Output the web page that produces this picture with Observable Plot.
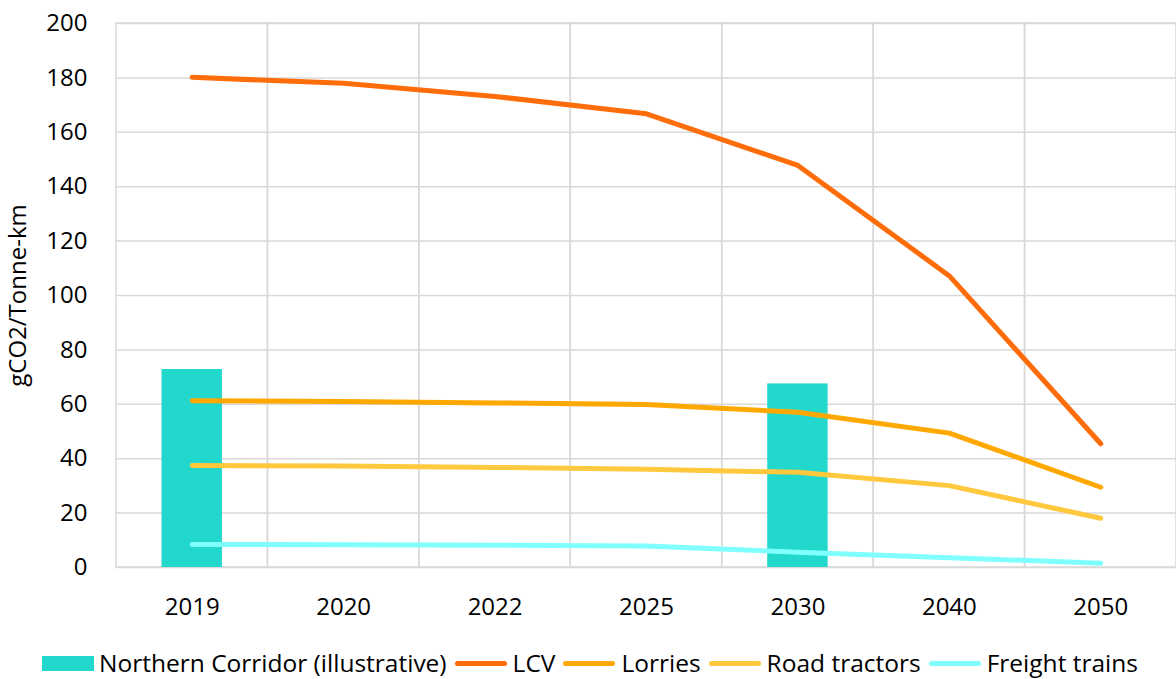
<!DOCTYPE html>
<html>
<head>
<meta charset="utf-8">
<script src="https://cdn.jsdelivr.net/npm/d3@7"></script>
<script src="https://cdn.jsdelivr.net/npm/@observablehq/plot@0.6"></script>
<style>
  html, body { margin: 0; padding: 0; background: #fff; }
  body { width: 1176px; height: 679px; position: relative; overflow: hidden; font-family: "Open Sans", sans-serif; }
  #legend { position: absolute; left: 6px; top: 648px; width: 1176px; height: 30px; display: flex; align-items: center; justify-content: center; font-size: 24.5px; line-height: 30px; color: #000; white-space: nowrap; }
  .item { display: flex; align-items: center; margin-right: 8px; }
  .sw-rect { width: 52px; height: 15px; margin-right: 5px; }
  .sw-line { width: 52px; height: 5px; border-radius: 3px; margin-right: 6px; }
</style>
</head>
<body>
<div id="chart"></div>
<div id="legend"></div>
<script>
// ---- data ----
const years = ["2019", "2020", "2022", "2025", "2030", "2040", "2050"];
const corridor = [72.8, null, null, null, 67.5, null, null];
const lcv = [180.2, 178.0, 173.2, 166.8, 147.8, 107.2, 45.5];
const lorries = [61.3, 61.0, 60.5, 59.9, 57.1, 49.4, 29.5];
const roadTractors = [37.5, 37.3, 36.8, 36.1, 35.0, 30.1, 18.1];
const freightTrains = [8.5, 8.4, 8.2, 7.9, 5.6, 3.6, 1.6];
const yTicks = [0, 20, 40, 60, 80, 100, 120, 140, 160, 180, 200];

const barName = "Northern Corridor (illustrative)";
const barColor = "#22d7cc";
const seriesNames = ["LCV", "Lorries", "Road tractors", "Freight trains"];
const seriesValues = [lcv, lorries, roadTractors, freightTrains];
const seriesColors = ["#ff6c0a", "#ffa800", "#ffc83d", "#80ffff"];

// ---- tables built from the arrays ----
const barData = years.map((year, i) => ({year, value: corridor[i]})).filter(d => d.value != null);
const lineData = seriesNames.flatMap((series, s) =>
  years.map((year, i) => ({series, year, value: seriesValues[s][i]})));

const grid = "#d9d9d9";

const chart = Plot.plot({
  width: 1176,
  height: 640,
  marginLeft: 116,
  marginRight: 0,
  marginTop: 23,
  marginBottom: 73,
  style: {fontFamily: "'Open Sans', sans-serif", fontSize: "24px", color: "#000", background: "white", overflow: "visible"},
  x: {type: "band", domain: years, padding: 0, round: false, label: null},
  y: {domain: [0, 200], label: null},
  color: {domain: seriesNames, range: seriesColors},
  marks: [
    Plot.ruleY(yTicks, {y: d => d, stroke: grid, strokeWidth: 1.5}),
    Plot.cell(years, {x: d => d, stroke: grid, strokeWidth: 1.5, fill: "none"}),
    Plot.barY(barData, {x: "year", y: "value", fill: barColor, insetLeft: 45.5, insetRight: 45.5}),
    Plot.line(lineData, {x: "year", y: "value", z: "series", stroke: "series", strokeWidth: 5, strokeLinecap: "round", strokeLinejoin: "round"}),
    Plot.axisX({tickSize: 0, tickPadding: 30, fontSize: 24, label: null}),
    Plot.axisY({ticks: yTicks, tickSize: 0, tickPadding: 29, fontSize: 24, label: "gCO2/Tonne-km", labelAnchor: "center", labelOffset: 108, labelArrow: "none"})
  ]
});
document.getElementById("chart").appendChild(chart);

// ---- legend ----
const legend = document.getElementById("legend");
const addItem = (name, color, isBar) => {
  const item = document.createElement("div");
  item.className = "item";
  const sw = document.createElement("span");
  sw.className = isBar ? "sw-rect" : "sw-line";
  sw.style.background = color;
  const t = document.createElement("span");
  t.textContent = name;
  item.appendChild(sw);
  item.appendChild(t);
  legend.appendChild(item);
};
addItem(barName, barColor, true);
seriesNames.forEach((n, i) => addItem(n, seriesColors[i], false));
</script>
</body>
</html>
